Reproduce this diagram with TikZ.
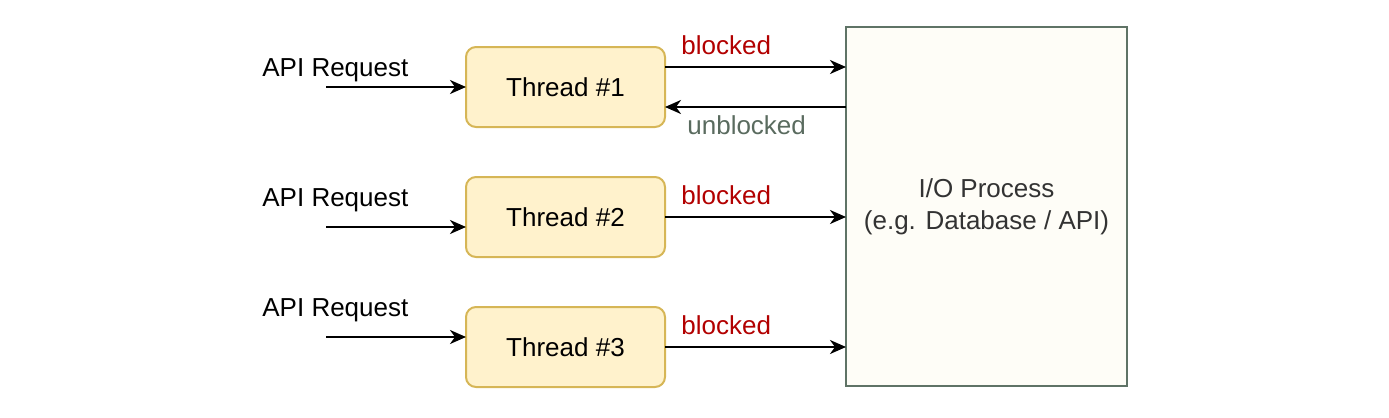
\documentclass[tikz,border=0pt]{standalone}
\usepackage{fontspec}
\setmainfont{Liberation Sans}
\usetikzlibrary{arrows.meta}
\definecolor{threadfill}{HTML}{FFF2CC}
\definecolor{threaddraw}{HTML}{D6B656}
\definecolor{iofill}{HTML}{FEFDF7}
\definecolor{iodraw}{HTML}{5F7366}
\definecolor{blockred}{HTML}{B20000}
\definecolor{unblockgray}{HTML}{5A6B5F}
\definecolor{iotext}{HTML}{333333}

\begin{document}
\begin{tikzpicture}[x=0.5pt,y=-0.5pt,
  font=\fontsize{13}{16}\selectfont,
  thread/.style={draw=threaddraw, fill=threadfill, line width=1pt, rounded corners=5pt,
    minimum width=99.5pt, minimum height=40pt, inner sep=0pt, outer sep=0pt},
  iobox/.style={draw=iodraw, fill=iofill, line width=1pt, text=iotext, align=center,
    minimum width=140.5pt, minimum height=179.5pt, inner sep=0pt, outer sep=0pt},
  lbl/.style={anchor=base west, inner sep=0pt},
  link/.style={-{Stealth[length=8pt,width=7pt,inset=2.5pt]}, line width=1.2pt}
]
\useasboundingbox (0,0) rectangle (1389,418);

\node[thread] (t1) at (565.5,87) {Thread \#1};
\node[thread] (t2) at (565.5,217) {Thread \#2};
\node[thread] (t3) at (565.5,347) {Thread \#3};

\node[iobox] (io) at (986.5,206.5) {I/O Process\\(e.g. Database / API)};

% requests
\node[lbl] (q1) at (262,76) {API Request};
\node[lbl] (q2) at (262,206) {API Request};
\node[lbl] (q3) at (262,316) {API Request};

\coordinate (s1) at (326,87);
\coordinate (s2) at (326,227);
\coordinate (s3) at (326,337);

\draw[link] (s1) -- (s1 -| t1.west);
\draw[link] (s2) -- (s2 -| t2.west);
\draw[link] (s3) -- (s3 -| t3.west);

% thread <-> io
\draw[link] ([yshift=10pt]t1.east) -- ([yshift=10pt]t1.east -| io.west);
\draw[link] ([yshift=-10pt]t1.east -| io.west) -- ([yshift=-10pt]t1.east);
\draw[link] (t2.east) -- (t2.east -| io.west);
\draw[link] (t3.east) -- (t3.east -| io.west);

\node[lbl, text=blockred] (b1) at (681,54) {blocked};
\node[lbl, text=unblockgray] (u1) at (687,134) {unblocked};
\node[lbl, text=blockred] (b2) at (681,204) {blocked};
\node[lbl, text=blockred] (b3) at (681,334) {blocked};

\end{tikzpicture}
\end{document}
